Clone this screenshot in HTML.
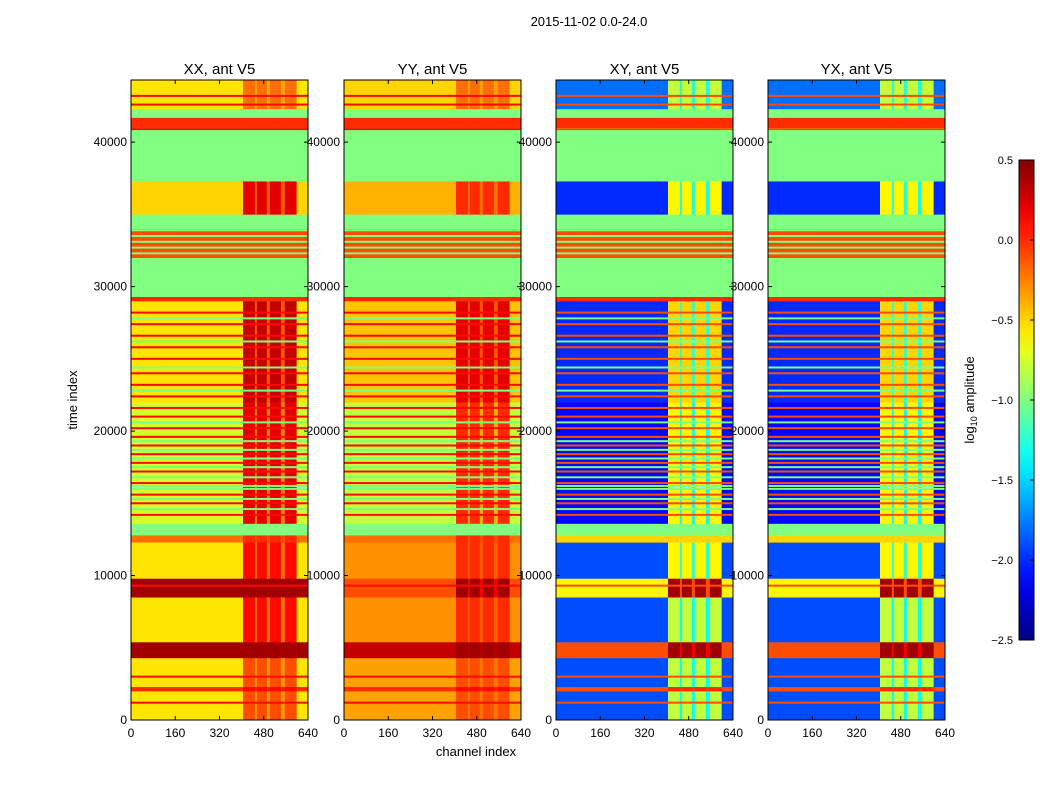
<!DOCTYPE html>
<html><head><meta charset="utf-8">
<style>
body{margin:0;background:#fff;}
svg{display:block;font-family:"Liberation Sans","DejaVu Sans",sans-serif;}
</style></head>
<body>
<svg id="chart" width="1050" height="800" viewBox="0 0 1050 800" xmlns="http://www.w3.org/2000/svg">
<rect width="1050" height="800" fill="#fff"/>
<text x="589" y="26" font-size="13" text-anchor="middle">2015-11-02 0.0-24.0</text>
<g id="panels"></g>
<text transform="translate(77,400) rotate(-90)" font-size="13" text-anchor="middle">time index</text>
<text x="476" y="756" font-size="13" text-anchor="middle">channel index</text>
<g id="cbar"></g>
</svg>
<script>
// ---- data ----
const bandStart = [0,2000,2300,4300,5400,8500,9800,12300,12800,13600,22000,29000,29300,32000,34000,35000,37300,41000,41700,42300];
const bandEnd   = [2000,2300,4300,5400,8500,9800,12300,12800,13600,22000,29000,29300,32000,34000,35000,37300,41000,41700,42300,44300];
const xxLow  = [-0.55,0.0,-0.55,0.4,-0.55,0.4,-0.55,-0.2,-1.0,-0.75,-0.55,0.0,-1.0,-0.1,-1.0,-0.5,-1.0,0.0,-1.0,-0.55];
const xxHigh = [-0.1,0.1,-0.1,0.4,0.1,0.4,0.1,0.0,-1.0,0.2,0.3,0.0,-1.0,-0.1,-1.0,0.2,-1.0,0.0,-1.0,-0.2];
const yyLow  = [-0.35,0.0,-0.35,0.3,-0.3,-0.1,-0.3,-0.2,-1.0,-0.8,-0.45,0.0,-1.0,-0.1,-1.0,-0.4,-1.0,0.0,-1.0,-0.5];
const yyHigh = [-0.1,0.1,-0.1,0.4,0.0,0.4,0.0,0.0,-1.0,0.0,0.2,0.0,-1.0,-0.1,-1.0,0.0,-1.0,0.0,-1.0,-0.2];
const xyLow  = [-1.9,-0.1,-1.9,-0.1,-1.9,-0.6,-1.9,-0.5,-1.0,-2.1,-2.0,0.0,-1.0,-0.1,-1.0,-2.0,-1.0,0.0,-1.0,-1.8];
const xyHigh = [-0.8,0.0,-0.8,0.4,-0.8,0.4,-0.6,-0.5,-1.0,-0.6,-0.5,0.0,-1.0,-0.1,-1.0,-0.6,-1.0,0.0,-1.0,-0.8];
const yxLow  = [-1.9,-0.1,-1.9,-0.1,-1.9,-0.6,-1.9,-0.5,-1.0,-2.1,-2.0,0.0,-1.0,-0.1,-1.0,-2.0,-1.0,0.0,-1.0,-1.8];
const yxHigh = [-0.8,0.0,-0.8,0.4,-0.8,0.4,-0.6,-0.5,-1.0,-0.6,-0.5,0.0,-1.0,-0.1,-1.0,-0.6,-1.0,0.0,-1.0,-0.8];
const redStripes = [1200,3000,9300,14200,15000,15600,16400,17200,17800,18400,19000,19600,20200,21000,21600,22400,23200,24000,25000,25800,26600,27400,28200,40900,42600,43200];
const greenStripes = [14600,15300,16000,16800,17500,18100,19300,20600,16200,18700,22800,24400,26200,27800,32300,32700,33100,33500,33900];
const panelTitles = ["XX, ant V5","YY, ant V5","XY, ant V5","YX, ant V5"];
const xTicks = [0,160,320,480,640];
const yTicks = [0,10000,20000,30000,40000];
const cbTicks = [0.5,0.0,-0.5,-1.0,-1.5,-2.0,-2.5];
// ---- layout ----
const panelX = [131,344,556,768], PW=177, PT=80, PB=720;
const TMAX=44300, CMAX=640, VMIN=-2.5, VMAX=0.5;
const yS = t => PB - (t/TMAX)*(PB-PT);
const xS = (p,c) => panelX[p] + (c/CMAX)*PW;
function jet(v){
  let t=(v-VMIN)/(VMAX-VMIN); t=Math.max(0,Math.min(1,t));
  const c=x=>Math.round(255*Math.max(0,Math.min(1,x)));
  return `rgb(${c(1.5-Math.abs(4*t-3))},${c(1.5-Math.abs(4*t-2))},${c(1.5-Math.abs(4*t-1))})`;
}
const NS="http://www.w3.org/2000/svg";
function mk(tag,attrs,parent){const e=document.createElementNS(NS,tag);for(const k in attrs)e.setAttribute(k,attrs[k]);parent.appendChild(e);return e;}
const lows=[xxLow,yyLow,xyLow,yxLow], highs=[xxHigh,yyHigh,xyHigh,yxHigh];
const segs=[[0,405,'l'],[405,448,'h'],[448,455,'m'],[455,491,'h'],[491,502,'m'],[502,542,'h'],[542,556,'m'],[556,599,'h'],[599,640,'l']];
const G=document.getElementById('panels');
for(let p=0;p<4;p++){
  const g=mk('g',{},G);
  
  
  for(let i=0;i<bandStart.length;i++){
    const lo=lows[p][i], hi=highs[p][i];
    for(const s of segs){
      const v = s[2]=='l'?lo:(s[2]=='h'?hi:(lo+hi)/2);
      const r=mk('rect',{x:xS(p,s[0]),y:yS(bandEnd[i]),width:xS(p,s[1])-xS(p,s[0])+0.3,height:yS(bandStart[i])-yS(bandEnd[i])+0.3,fill:jet(v)},g);
      
      
    }
  }
  for(const t of redStripes){
    const r=mk('rect',{x:xS(p,0),y:yS(t)-1,width:PW,height:2,fill:jet(p<2?0.1:-0.1)},g);
    
    
  }
  for(const t of greenStripes){
    const r=mk('rect',{x:xS(p,0),y:yS(t)-1,width:PW,height:2,fill:jet(-1.0)},g);
    
    
  }
  const fr=mk('rect',{x:panelX[p],y:PT,width:PW,height:PB-PT,fill:'none',stroke:'#000','stroke-width':1},g);
  
  
  const tt=mk('text',{x:panelX[p]+PW/2,y:74,'font-size':15,'text-anchor':'middle'},g);
  tt.textContent=panelTitles[p];
  
  
  for(const c of xTicks){
    const x=xS(p,c);
    mk('line',{x1:x,x2:x,y1:PB,y2:PB-4,stroke:'#000'},g);
    mk('line',{x1:x,x2:x,y1:PT,y2:PT+4,stroke:'#000'},g);
    const tx=mk('text',{x:x,y:PB+17,'font-size':12,'text-anchor':'middle'},g);
    tx.textContent=c;
    
    
  }
  for(const t of yTicks){
    const y=yS(t);
    mk('line',{x1:panelX[p],x2:panelX[p]+4,y1:y,y2:y,stroke:'#000'},g);
    mk('line',{x1:panelX[p]+PW,x2:panelX[p]+PW-4,y1:y,y2:y,stroke:'#000'},g);
    const ty=mk('text',{x:panelX[p]-4,y:y+4,'font-size':12,'text-anchor':'end'},g);
    ty.textContent=t;
    
    
  }
}
// colorbar
const CB=document.getElementById('cbar');
const defs=mk('defs',{},CB);
const lg=mk('linearGradient',{id:'jetg',x1:0,y1:1,x2:0,y2:0},defs);
for(let i=0;i<=20;i++){mk('stop',{offset:i/20,'stop-color':jet(VMIN+(VMAX-VMIN)*i/20)},lg);}
const cbx=1019,cbw=15,cbt=160,cbb=640;
const cb=mk('rect',{x:cbx,y:cbt,width:cbw,height:cbb-cbt,fill:'url(#jetg)',stroke:'#000'},CB);


for(const v of cbTicks){
  const y=cbb-(v-VMIN)/(VMAX-VMIN)*(cbb-cbt);
  mk('line',{x1:cbx+cbw,x2:cbx+cbw-4,y1:y,y2:y,stroke:'#000'},CB);
  const t=mk('text',{x:1013,y:y+4,'font-size':11,'text-anchor':'end'},CB);
  t.textContent=(v>=0?'':'\u2212')+Math.abs(v).toFixed(1);
  
  
}
const cl=mk('text',{transform:'translate(974,400) rotate(-90)','font-size':13,'text-anchor':'middle'},CB);
cl.innerHTML='log<tspan font-size="9" dy="3">10</tspan><tspan dy="-3"> amplitude</tspan>';


</script>
</body></html>
